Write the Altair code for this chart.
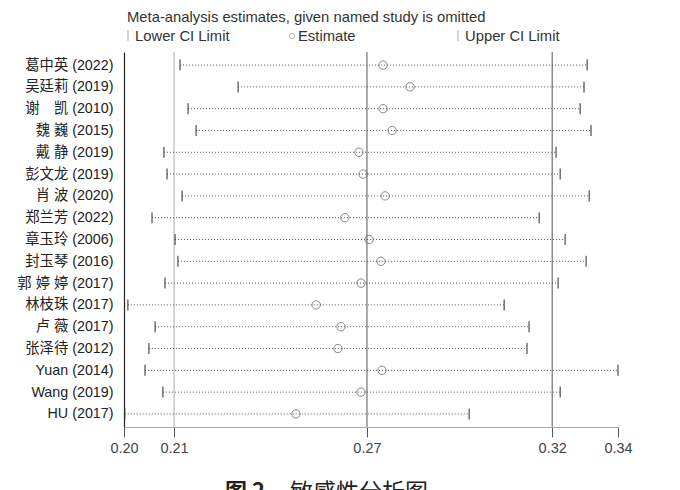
import altair as alt
import pandas as pd

studies = ["葛中英 (2022)", "吴廷莉 (2019)", "谢　凯 (2010)", "魏 巍 (2015)", "戴 静 (2019)",
           "彭文龙 (2019)", "肖 波 (2020)", "郑兰芳 (2022)", "章玉玲 (2006)", "封玉琴 (2016)",
           "郭 婷 婷 (2017)", "林枝珠 (2017)", "卢 薇 (2017)", "张泽待 (2012)", "Yuan (2014)",
           "Wang (2019)", "HU (2017)"]
lower = [0.2160, 0.2326, 0.2183, 0.2206, 0.2114, 0.2123, 0.2166, 0.2080, 0.2146, 0.2154,
         0.2117, 0.2011, 0.2089, 0.2071, 0.2060, 0.2111, 0.2002]
estimate = [0.2740, 0.2817, 0.2740, 0.2766, 0.2671, 0.2683, 0.2746, 0.2631, 0.2700, 0.2734,
            0.2677, 0.2549, 0.2620, 0.2611, 0.2737, 0.2677, 0.2491]
upper = [0.3323, 0.3314, 0.3303, 0.3334, 0.3234, 0.3246, 0.3329, 0.3186, 0.3260, 0.3320,
         0.3240, 0.3086, 0.3157, 0.3151, 0.3411, 0.3246, 0.2986]

overall_kind = ["lower", "estimate", "upper"]
overall_value = [0.2143, 0.2694, 0.3223]
axis_ticks = [0.2000, 0.2143, 0.2694, 0.3223, 0.3411]

title_text = "Meta-analysis estimates, given named study is omitted"
legend_labels = ["Lower CI Limit", "Estimate", "Upper CI Limit"]
caption_parts = ["图 2", "敏感性分析图"]

FONT = "Liberation Sans, Arial, Noto Sans CJK SC"
CJK = "Noto Sans CJK SC"
HFS = 14.8

df = pd.DataFrame({"study": studies, "lower": lower, "estimate": estimate, "upper": upper})
ov = pd.DataFrame({"kind": overall_kind, "value": overall_value})
one = pd.DataFrame({"a": [0]})

xscale = alt.Scale(domain=[axis_ticks[0], axis_ticks[-1]], nice=False, zero=False)
xaxis = alt.Axis(values=axis_ticks, format=".2f", title=None, grid=False,
                 labelFontSize=14.5, labelColor="#444", labelFont=FONT, labelPadding=4,
                 domainColor="#aaa", tickColor="#555", tickSize=10, labelFlush=False)
yenc = alt.Y("study:N", sort=studies, scale=alt.Scale(type="point", padding=0.6),
             axis=alt.Axis(title=None, ticks=False, domainColor="#222", domainWidth=1.2,
                           labelPadding=11, labelFontSize=14.3, labelColor="#222",
                           labelFont=FONT, labelLimit=200))

base = alt.Chart(df)

ref_low = alt.Chart(ov).transform_filter(alt.datum.kind == "lower").mark_rule(
    color="#aaa", strokeWidth=1).encode(x=alt.X("value:Q", scale=xscale, axis=xaxis))
ref_other = alt.Chart(ov).transform_filter(alt.datum.kind != "lower").mark_rule(
    color="#555", strokeWidth=1).encode(x=alt.X("value:Q", scale=xscale))

ci = base.mark_rule(color="#555", strokeWidth=1, strokeDash=[1, 2]).encode(
    x=alt.X("lower:Q", scale=xscale), x2="upper:Q", y=yenc)
lo_tick = base.mark_tick(color="#333", size=11, thickness=1.5).encode(
    x=alt.X("lower:Q", scale=xscale), y=yenc)
up_tick = base.mark_tick(color="#333", size=11, thickness=1.5).encode(
    x=alt.X("upper:Q", scale=xscale), y=yenc)
est = base.mark_point(shape="circle", filled=False, size=70, color="#555",
                      strokeWidth=1).encode(x=alt.X("estimate:Q", scale=xscale), y=yenc)

# header title & legend
title = alt.Chart(one).mark_text(text=title_text, font=FONT, fontSize=HFS, color="#333",
                                 align="left", baseline="alphabetic").encode(
    x=alt.value(3), y=alt.value(-30))
leg_bar1 = alt.Chart(one).mark_rule(color="#aaa", strokeWidth=1).encode(
    x=alt.value(4), y=alt.value(-22), y2=alt.value(-11))
leg_t1 = alt.Chart(one).mark_text(text=legend_labels[0], font=FONT, fontSize=HFS, color="#333",
                                  align="left", baseline="alphabetic").encode(
    x=alt.value(11), y=alt.value(-11))
leg_circ = alt.Chart(one).mark_point(shape="circle", filled=False, size=30, color="#999",
                                     strokeWidth=1).encode(x=alt.value(168), y=alt.value(-16))
leg_t2 = alt.Chart(one).mark_text(text=legend_labels[1], font=FONT, fontSize=HFS, color="#333",
                                  align="left", baseline="alphabetic").encode(
    x=alt.value(174), y=alt.value(-11))
leg_bar3 = alt.Chart(one).mark_rule(color="#aaa", strokeWidth=1).encode(
    x=alt.value(334), y=alt.value(-22), y2=alt.value(-11))
leg_t3 = alt.Chart(one).mark_text(text=legend_labels[2], font=FONT, fontSize=HFS, color="#333",
                                  align="left", baseline="alphabetic").encode(
    x=alt.value(341), y=alt.value(-11))

cap1 = alt.Chart(one).mark_text(text=caption_parts[0], font=CJK, fontSize=22, fontWeight="bold",
                                color="#222", align="left", baseline="top").encode(
    x=alt.value(101), y=alt.value(430))
cap2 = alt.Chart(one).mark_text(text=caption_parts[1], font=CJK, fontSize=23,
                                color="#222", align="left", baseline="top").encode(
    x=alt.value(166), y=alt.value(430))

chart = alt.layer(
    ref_low, ref_other, ci, lo_tick, up_tick, est,
    title, leg_bar1, leg_t1, leg_circ, leg_t2, leg_bar3, leg_t3, cap1, cap2
).properties(
    width=494, height=375,
    autosize=alt.AutoSizeParams(type="none"),
    padding={"left": 116, "top": 44, "right": 54, "bottom": 63},
    background="white",
).configure_view(stroke=None)

chart.save("out.html", embed_options={"renderer": "svg", "actions": False})
